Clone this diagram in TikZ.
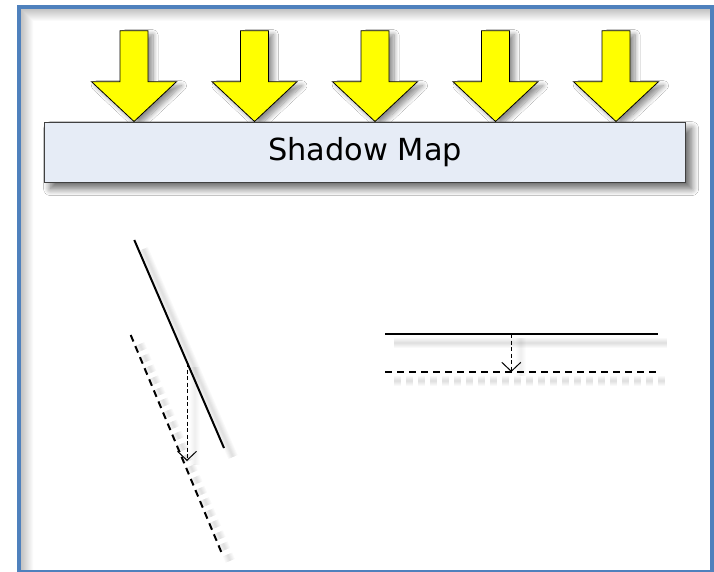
\documentclass[tikz,border=0pt]{standalone}
\usepackage{fontspec}
\setmainfont{DejaVu Sans}
\usetikzlibrary{arrows.meta,shadows.blur}
\definecolor{frameblue}{HTML}{4F81BD}
\definecolor{boxfill}{HTML}{E6ECF6}
\definecolor{boxedge}{HTML}{404040}
\definecolor{lightyellow}{HTML}{FFFF00}
\tikzset{
  lightarrow/.style={fill=lightyellow, draw=black, line width=0.8pt, line join=miter,
    blur shadow={shadow xshift=5pt, shadow yshift=-4pt, shadow blur radius=5pt, shadow blur steps=10, shadow opacity=45}},
  mapbox/.style={rectangle, fill=boxfill, draw=boxedge, line width=1.2pt,
    minimum width=641pt, minimum height=60pt, inner sep=0pt,
    font=\fontsize{30.4pt}{36pt}\selectfont,
    blur shadow={shadow xshift=6pt, shadow yshift=-6pt, shadow blur radius=7pt, shadow blur steps=12, shadow opacity=60}},
  surface/.style={draw=black, line width=2pt},
  offsetline/.style={draw=black, line width=2pt, dash pattern=on 7pt off 5pt},
  shiftarrow/.style={draw=black, line width=0.9pt, dash pattern=on 4pt off 2.5pt,
    -{Straight Barb[length=9pt,width=19pt,line width=1pt]}},
  lsh/.style={draw=black, opacity=0.022, line width=#1},
  lshf/.style={draw=black, opacity=0.012, line width=#1},
}
\begin{document}
\begin{tikzpicture}[x=1pt,y=-1pt]
\useasboundingbox (0,0) rectangle (714,572);
\fill[white] (0,0) rectangle (714,572);
% inner shadow of the frame
\foreach \i in {1,...,12}
  \fill[black, opacity=0.02] (21,9) rectangle (21+\i,572) (21+\i,9) rectangle (711,9+\i);

% light arrows
\foreach \c in {134,254.5,375,495.5,616}
  \draw[lightarrow] (\c-14,30.7) -- (\c+14,30.7) -- (\c+14,81.7) -- (\c+42.5,81.7)
     -- (\c,121.5) -- (\c-42.5,81.7) -- (\c-14,81.7) -- cycle;

% shadow map box
\node[mapbox, anchor=north west] (smap) at (44,122) {Shadow Map};

% coordinates
\coordinate (A1) at (134.3,240);
\coordinate (A2) at (224,448);
\coordinate (B1) at (130.7,335);
\coordinate (B2) at (221.7,553);
\coordinate (P1) at (187,363);
\coordinate (P2) at (187,461);
\coordinate (C1) at (385,334);
\coordinate (C2) at (658,334);
\coordinate (D1) at (385,372);
\coordinate (D2) at (657,372);
\coordinate (Q1) at (511.3,334);
\coordinate (Q2) at (511.3,372);

% soft shadows of the lines
\foreach \w in {2,4,6,8,10} {
  \draw[lsh=\w pt] ([xshift=9pt,yshift=-9pt]A1) -- ([xshift=9pt,yshift=-9pt]A2);
  \draw[lsh=\w pt, dash pattern=on 7pt off 5pt] ([xshift=9pt,yshift=-9pt]B1) -- ([xshift=9pt,yshift=-9pt]B2);
  \draw[lsh=\w pt] ([xshift=9pt,yshift=-9pt]C1) -- ([xshift=9pt,yshift=-9pt]C2);
  \draw[lsh=\w pt, dash pattern=on 7pt off 5pt] ([xshift=9pt,yshift=-9pt]D1) -- ([xshift=9pt,yshift=-9pt]D2);
  \draw[lshf=\w pt] ([xshift=10pt,yshift=-4pt]Q1) -- ([xshift=10pt,yshift=-4pt]Q2);
  \draw[lshf=\w pt] ([xshift=8pt,yshift=-4pt]P1) -- ([xshift=8pt,yshift=-4pt]P2);
}

% lines
\draw[surface] (A1) -- (A2);
\draw[offsetline] (B1) -- (B2);
\draw[shiftarrow] (P1) -- (P2);
\draw[surface] (C1) -- (C2);
\draw[offsetline] (D1) -- (D2);
\draw[shiftarrow] (Q1) -- (Q2);

% frame
\draw[frameblue, line width=4pt] (19,7) rectangle (711.5,571.5);
\end{tikzpicture}
\end{document}
